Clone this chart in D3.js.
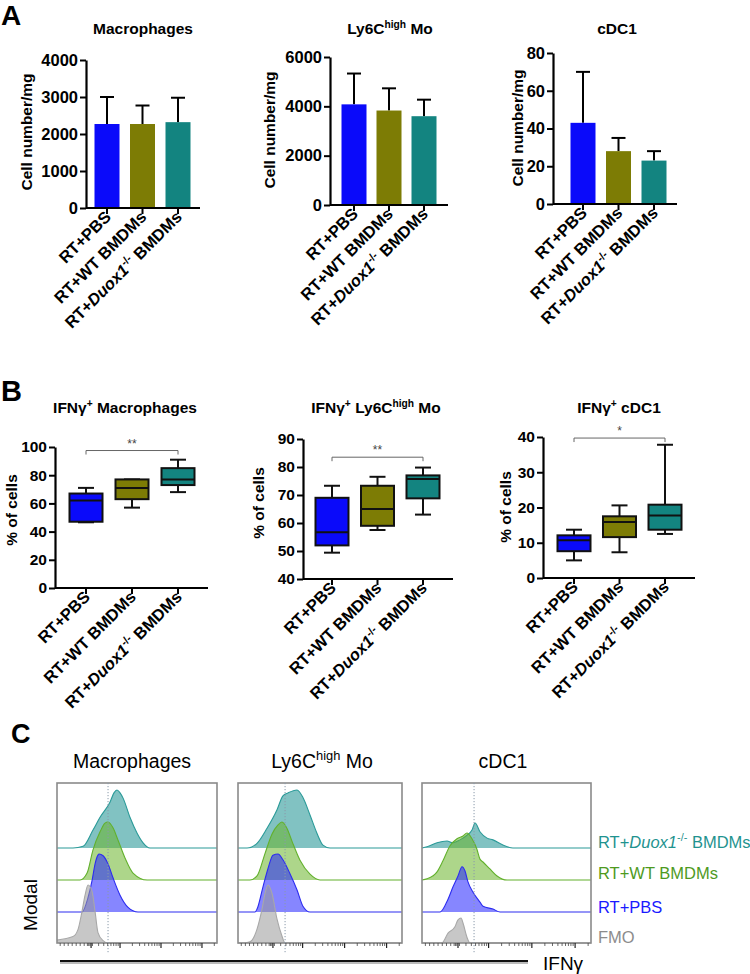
<!DOCTYPE html>
<html><head><meta charset="utf-8">
<script src="https://cdn.jsdelivr.net/npm/d3@7"></script>
<style>
body{margin:0;background:#fff}
svg{display:block;font-family:"Liberation Sans",Arial,Helvetica,sans-serif}
</style>
</head><body>
<svg id="c" width="750" height="974"></svg>
<script>
// ---------- DATA ----------
const groups = ["RT+PBS", "RT+WT BMDMs", "RT+Duox1-/- BMDMs"];
const groupColors = ["#0a0afa", "#7d7c05", "#138480"];

// Panel A: mean and upper error (mean + SD) values, cell number/mg
const macMean = [2270, 2270, 2320];
const macErr  = [3000, 2770, 2980];
const ly6Mean = [4080, 3830, 3600];
const ly6Err  = [5330, 4730, 4270];
const cdcMean = [43, 28, 23];
const cdcErr  = [70, 35, 28];
const macTicks = [0, 1000, 2000, 3000, 4000];
const ly6Ticks = [0, 2000, 4000, 6000];
const cdcTicks = [0, 20, 40, 60, 80];

// Panel B: box stats [min, q1, median, q3, max], % of cells
const macBox = [[46.6, 47, 62, 67, 71], [57, 63, 71, 77, 77], [68, 73, 77, 85, 91]];
const ly6Box = [[49.4, 52, 56.7, 69, 73.3], [57.5, 59, 65, 73.3, 76.5], [63, 68.8, 75.7, 77, 79.8]];
const cdcBox = [[5, 7.6, 10.7, 12.1, 13.7], [7.3, 11.6, 15.9, 17.5, 20.6], [12.5, 13.7, 17.7, 20.8, 37.8]];
const macBoxTicks = [0, 20, 40, 60, 80, 100];
const ly6BoxTicks = [40, 50, 60, 70, 80, 90];
const cdcBoxTicks = [0, 10, 20, 30, 40];
const sigLabels = ["**", "**", "*"];
const sigLevels = [97.5, 83.5, 39.7];

// Panel C: histograms [IFNγ channel (0-1000), modal height]
const macFMO = [[0,0.05],[100,0.11],[131,0.23],[156,0.54],[175,0.82],[194,1.0],[219,0.89],[238,0.54],[256,0.18],[288,0.04],[319,0]];
const macPBS = [[156,0],[194,0.25],[219,0.54],[238,0.83],[256,0.98],[263,1.0],[288,0.97],[319,0.83],[350,0.59],[394,0.29],[444,0.08],[506,0]];
const macWT  = [[144,0],[188,0.12],[225,0.52],[269,0.83],[300,0.98],[319,1.0],[350,0.9],[381,0.69],[425,0.38],[475,0.12],[563,0]];
const macKO  = [[100,0],[163,0.03],[225,0.31],[269,0.53],[331,0.79],[356,0.95],[375,1.0],[394,0.95],[413,0.86],[456,0.53],[500,0.26],[538,0.09],[581,0]];
const ly6FMO = [[37,0],[73,0.02],[116,0.24],[146,0.58],[165,0.86],[183,1.0],[207,0.86],[238,0.41],[268,0.12],[287,0]];
const ly6PBS = [[104,0],[116,0.05],[152,0.43],[183,0.75],[213,0.98],[244,1.0],[274,0.9],[317,0.66],[360,0.38],[396,0.1],[439,0]];
const ly6WT  = [[73,0],[116,0.07],[165,0.46],[207,0.79],[244,0.95],[268,1.0],[299,0.89],[329,0.67],[378,0.34],[439,0.1],[500,0]];
const ly6KO  = [[55,0],[116,0.08],[177,0.34],[238,0.66],[274,0.9],[305,0.95],[360,1.0],[396,0.87],[439,0.57],[482,0.25],[518,0.05],[561,0]];
const cdcFMO = [[118,0],[154,0.17],[195,0.28],[213,0.4],[231,0.43],[243,0.34],[266,0.1],[284,0]];
const cdcPBS = [[107,0],[154,0.22],[183,0.43],[213,0.62],[237,0.78],[254,0.71],[272,0.52],[302,0.34],[343,0.17],[361,0.1],[420,0.05],[462,0]];
const cdcWT  = [[30,0.02],[89,0.14],[124,0.33],[166,0.59],[207,0.71],[243,0.76],[266,0.81],[296,0.71],[325,0.53],[343,0.36],[361,0.31],[402,0.19],[444,0.07],[503,0]];
const cdcKO  = [[30,0.02],[89,0.09],[148,0.12],[183,0.09],[225,0.14],[266,0.22],[296,0.31],[314,0.43],[343,0.28],[385,0.17],[420,0.14],[479,0.05],[538,0]];
const histLegend = ["RT+Duox1-/- BMDMs", "RT+WT BMDMs", "RT+PBS", "FMO"];
const histStroke = ["#2a9a98", "#62b02c", "#2c2cf0", "#a8a8a8"];
const histFill   = ["#1a8f8f", "#6ab42a", "#2222ff", "#999999"];
const legendColors = ["#1f938f", "#4e9a1e", "#1a1aff", "#8c8c8c"];
const gateValues = [319, 287, 308];

// ---------- HELPERS ----------
const svg = d3.select("#c");

function labelParts(s) {
  if (s.indexOf("Duox1") >= 0) {
    return [{t:"RT+"},{t:"Duox1",it:true},{t:"-/-",sup:true},{t:" BMDMs"}];
  }
  return [{t:s}];
}
function rich(sel, parts, size) {
  parts.forEach((p, i) => {
    const ts = sel.append("tspan").text(p.t);
    if (p.it) ts.attr("font-style", "italic");
    if (p.sup) ts.attr("font-size", size * 0.66).attr("dy", -size * 0.4);
    else if (i > 0 && parts[i - 1].sup) ts.attr("dy", size * 0.4);
  });
}

// panel letters
[["A", 1, 25, 28], ["B", 1, 401, 29], ["C", 11, 743, 27]].forEach(([t, x, y, s]) => {
  svg.append("text").attr("x", x).attr("y", y).attr("font-size", s)
    .attr("font-weight", "bold").text(t);
});

function catAxis(g, x, ax, axEnd, y0, labelDy) {
  g.append("line").attr("x1", ax).attr("x2", axEnd).attr("y1", y0).attr("y2", y0)
    .attr("stroke", "#000").attr("stroke-width", 2.2);
  groups.forEach(c => {
    g.append("line").attr("x1", x(c)).attr("x2", x(c)).attr("y1", y0).attr("y2", y0 + 6)
      .attr("stroke", "#000").attr("stroke-width", 2);
    const t = g.append("text")
      .attr("transform", `translate(${x(c) + 5},${y0 + labelDy}) rotate(-45)`)
      .attr("text-anchor", "end").attr("font-size", 16.5).attr("font-weight", "bold");
    rich(t, labelParts(c), 16.5);
  });
}
function valAxis(g, y, ax, ticks, fs) {
  const a = d3.axisLeft(y).tickValues(ticks).tickFormat(d3.format("d")).tickSize(6).tickSizeOuter(0).tickPadding(2);
  const ag = g.append("g").attr("transform", `translate(${ax},0)`).call(a);
  ag.select(".domain").attr("stroke-width", 2.2);
  ag.selectAll(".tick line").attr("stroke-width", 2);
  ag.selectAll(".tick text").attr("font-size", fs).attr("font-weight", "bold")
    .attr("font-family", "Liberation Sans, Arial, sans-serif").attr("fill", "#000");
}

// ---------- PANEL A ----------
const barCfg = [
  {mean: macMean, err: macErr, ticks: macTicks, title: [{t:"Macrophages"}],
   ax: 86, axEnd: 200, y0: 208, yTop: 60, c0: 107, c1: 178, tx: 143, ylx: 27, yly: 132},
  {mean: ly6Mean, err: ly6Err, ticks: ly6Ticks, title: [{t:"Ly6C"},{t:"high",sup:true},{t:" Mo"}],
   ax: 330, axEnd: 448, y0: 205, yTop: 57, c0: 354, c1: 424, tx: 390, ylx: 270, yly: 130},
  {mean: cdcMean, err: cdcErr, ticks: cdcTicks, title: [{t:"cDC1"}],
   ax: 553, axEnd: 677, y0: 204, yTop: 53, c0: 583, c1: 654, tx: 617, ylx: 518, yly: 128}
];
barCfg.forEach(cfg => {
  const g = svg.append("g");
  const x = d3.scalePoint().domain(groups).range([cfg.c0, cfg.c1]);
  const y = d3.scaleLinear().domain([0, cfg.ticks[cfg.ticks.length - 1]]).range([cfg.y0, cfg.yTop]);
  const bw = 25;
  groups.forEach((c, i) => {
    g.append("line").attr("x1", x(c)).attr("x2", x(c)).attr("y1", y(cfg.mean[i])).attr("y2", y(cfg.err[i]))
      .attr("stroke", "#000").attr("stroke-width", 2);
    g.append("line").attr("x1", x(c) - 7).attr("x2", x(c) + 7).attr("y1", y(cfg.err[i])).attr("y2", y(cfg.err[i]))
      .attr("stroke", "#000").attr("stroke-width", 2);
    g.append("rect").attr("x", x(c) - bw / 2).attr("width", bw)
      .attr("y", y(cfg.mean[i])).attr("height", y(0) - y(cfg.mean[i]))
      .attr("fill", groupColors[i]);
  });
  valAxis(g, y, cfg.ax, cfg.ticks, 16.5);
  catAxis(g, x, cfg.ax, cfg.axEnd, cfg.y0, 10);
  const t = g.append("text").attr("x", cfg.tx).attr("y", 34).attr("text-anchor", "middle")
    .attr("font-size", 15.5).attr("font-weight", "bold");
  rich(t, cfg.title, 15.5);
  g.append("text").attr("transform", `translate(${cfg.ylx + 5},${cfg.yly}) rotate(-90)`)
    .attr("text-anchor", "middle").attr("font-size", 15.5).attr("font-weight", "bold").text("Cell number/mg");
});

// ---------- PANEL B ----------
const boxCfg = [
  {stats: macBox, ticks: macBoxTicks, title: [{t:"IFNγ"},{t:"+",sup:true},{t:" Macrophages"}],
   ax: 55, axEnd: 208, y0: 588, yTop: 447, c0: 86, c1: 178, tx: 125, ylx: 12, yly: 510},
  {stats: ly6Box, ticks: ly6BoxTicks, title: [{t:"IFNγ"},{t:"+",sup:true},{t:" Ly6C"},{t:"high",sup:true},{t:" Mo"}],
   ax: 303, axEnd: 453, y0: 579, yTop: 439, c0: 332, c1: 423, tx: 376, ylx: 259, yly: 503},
  {stats: cdcBox, ticks: cdcBoxTicks, title: [{t:"IFNγ"},{t:"+",sup:true},{t:" cDC1"}],
   ax: 543, axEnd: 695, y0: 578, yTop: 437, c0: 574, c1: 665, tx: 619, ylx: 506, yly: 507}
];
boxCfg.forEach((cfg, k) => {
  const g = svg.append("g");
  const x = d3.scalePoint().domain(groups).range([cfg.c0, cfg.c1]);
  const y = d3.scaleLinear().domain([cfg.ticks[0], cfg.ticks[cfg.ticks.length - 1]]).range([cfg.y0, cfg.yTop]);
  const bw = 33, cw = 16;
  groups.forEach((c, i) => {
    const [mn, q1, md, q3, mx] = cfg.stats[i];
    const cx = x(c);
    const ln = (x1, x2, y1, y2) => g.append("line").attr("x1", x1).attr("x2", x2).attr("y1", y1).attr("y2", y2)
      .attr("stroke", "#111").attr("stroke-width", 2);
    ln(cx, cx, y(mx), y(q3)); ln(cx - cw / 2, cx + cw / 2, y(mx), y(mx));
    ln(cx, cx, y(q1), y(mn)); ln(cx - cw / 2, cx + cw / 2, y(mn), y(mn));
    g.append("rect").attr("x", cx - bw / 2).attr("width", bw).attr("y", y(q3)).attr("height", y(q1) - y(q3))
      .attr("fill", groupColors[i]).attr("stroke", "#111").attr("stroke-width", 2);
    ln(cx - bw / 2, cx + bw / 2, y(md), y(md));
  });
  valAxis(g, y, cfg.ax, cfg.ticks, 15.5);
  catAxis(g, x, cfg.ax, cfg.axEnd, cfg.y0, 10);
  // significance bracket
  const by = y(sigLevels[k]);
  const xa = x(groups[0]), xb = x(groups[2]);
  g.append("path").attr("d", `M${xa},${by + 4}V${by}H${xb}V${by + 4}`)
    .attr("fill", "none").attr("stroke", "#666").attr("stroke-width", 1);
  g.append("text").attr("x", (xa + xb) / 2).attr("y", by - 3).attr("text-anchor", "middle")
    .attr("font-size", 12).attr("fill", "#444").text(sigLabels[k]);
  const t = g.append("text").attr("x", cfg.tx).attr("y", 413).attr("text-anchor", "middle")
    .attr("font-size", 15.5).attr("font-weight", "bold");
  rich(t, cfg.title, 15.5);
  g.append("text").attr("transform", `translate(${cfg.ylx + 5},${cfg.yly}) rotate(-90)`)
    .attr("text-anchor", "middle").attr("font-size", 15.5).attr("font-weight", "bold").text("% of cells");
});

// ---------- PANEL C ----------
const histCfg = [
  {left: 57, right: 217, titleX: 132, title: [{t:"Macrophages"}], data: [macKO, macWT, macPBS, macFMO]},
  {left: 238, right: 402, titleX: 322, title: [{t:"Ly6C"},{t:"high",sup:true},{t:" Mo"}], data: [ly6KO, ly6WT, ly6PBS, ly6FMO]},
  {left: 422, right: 591, titleX: 503, title: [{t:"cDC1"}], data: [cdcKO, cdcWT, cdcPBS, cdcFMO]}
];
const hTop = 783, hBottom = 943;
const rowOffsets = [95, 63, 31, 0];
const hY = d3.scaleLinear().domain([0, 1]).range([0, 58]);
// biexponential-like axis ticks (channel units)
const decades = [394, 650, 906];
const majorTicks = [213].concat(decades);
const minorTicks = [20, 45, 70, 95, 120, 145, 170, 190, 198, 206, 222];
[138].concat(decades).forEach(d => {
  for (let m = 2; m <= 9; m++) { const v = d + 256 * Math.log10(m); if (v < 990 && v > 230) minorTicks.push(v); }
});

histCfg.forEach((cfg, p) => {
  const g = svg.append("g");
  const x = d3.scaleLinear().domain([0, 1000]).range([cfg.left, cfg.right]);
  cfg.data.forEach((pts, r) => {
    const base = hBottom - rowOffsets[r];
    const full = [];
    if (pts[0][0] > 0) full.push([0, 0]);
    pts.forEach(d => full.push(d));
    full.push([1000, 0]);
    const area = d3.area().x(d => x(d[0])).y0(base).y1(d => base - hY(d[1])).curve(d3.curveMonotoneX);
    const line = d3.line().x(d => x(d[0])).y(d => base - hY(d[1])).curve(d3.curveMonotoneX);
    g.append("path").attr("d", area(full)).attr("fill", histFill[r]).attr("fill-opacity", 0.55);
    g.append("path").attr("d", line(full)).attr("fill", "none").attr("stroke", histStroke[r]).attr("stroke-width", 1.1);
  });
  g.append("rect").attr("x", cfg.left).attr("y", hTop).attr("width", cfg.right - cfg.left).attr("height", hBottom - hTop)
    .attr("fill", "none").attr("stroke", "#8a8a8a").attr("stroke-width", 1.6);
  g.append("line").attr("x1", x(gateValues[p])).attr("x2", x(gateValues[p])).attr("y1", hTop).attr("y2", 953)
    .attr("stroke", "#8a9aaa").attr("stroke-width", 1).attr("stroke-dasharray", "1.2,1.8");
  minorTicks.forEach(v => g.append("line").attr("x1", x(v)).attr("x2", x(v)).attr("y1", hBottom).attr("y2", hBottom + 3)
    .attr("stroke", "#444").attr("stroke-width", 0.8));
  majorTicks.forEach(v => g.append("line").attr("x1", x(v)).attr("x2", x(v)).attr("y1", hBottom).attr("y2", hBottom + 5)
    .attr("stroke", "#222").attr("stroke-width", 1.2));
  const t = g.append("text").attr("x", cfg.titleX).attr("y", 768).attr("text-anchor", "middle").attr("font-size", 19.5);
  rich(t, cfg.title, 19.5);
});

// legend
const legBase = [848, 879, 913, 943];
histLegend.forEach((s, i) => {
  const t = svg.append("text").attr("x", 598).attr("y", legBase[i]).attr("font-size", 16.5).attr("fill", legendColors[i]);
  rich(t, labelParts(s), 16.5);
});
// Modal label
svg.append("text").attr("transform", "translate(37,905) rotate(-90)").attr("text-anchor", "middle")
  .attr("font-size", 19).text("Modal");
// IFNγ axis bar
svg.append("line").attr("x1", 60).attr("x2", 528).attr("y1", 963).attr("y2", 963).attr("stroke", "#bbb").attr("stroke-width", 2);
svg.append("line").attr("x1", 60).attr("x2", 528).attr("y1", 961).attr("y2", 961).attr("stroke", "#111").attr("stroke-width", 2);
svg.append("text").attr("x", 543).attr("y", 970).attr("font-size", 19).text("IFNγ");
</script>
</body></html>
